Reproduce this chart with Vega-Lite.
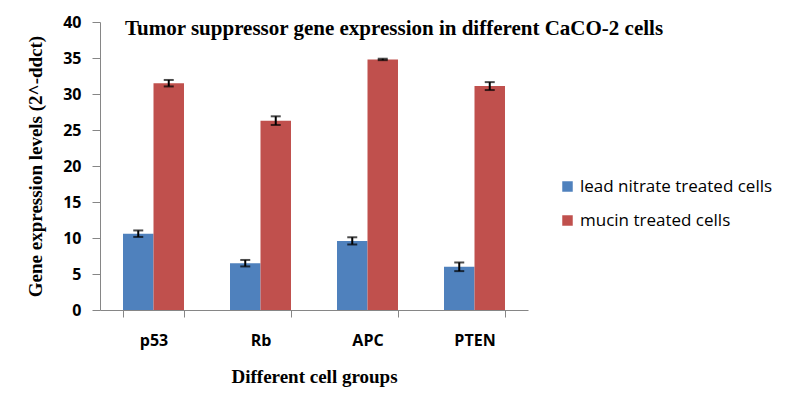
{
  "$schema": "https://vega.github.io/schema/vega-lite/v6.json",
  "autosize": "none",
  "padding": {"left": 100, "top": 22, "right": 261, "bottom": 101},
  "width": 428,
  "height": 288,
  "background": "white",
  "title": {
    "text": "Tumor suppressor gene expression in different CaCO-2 cells",
    "font": "Liberation Serif",
    "fontSize": 21,
    "fontWeight": "bold",
    "color": "black",
    "anchor": "start",
    "frame": "group",
    "dx": 25,
    "dy": 29,
    "offset": -13,
    "baseline": "alphabetic"
  },
  "data": {
    "values": [
      {"gene": "p53", "group": "lead nitrate treated cells", "value": 10.6, "err": 0.45},
      {"gene": "p53", "group": "mucin treated cells", "value": 31.5, "err": 0.45},
      {"gene": "Rb", "group": "lead nitrate treated cells", "value": 6.5, "err": 0.45},
      {"gene": "Rb", "group": "mucin treated cells", "value": 26.3, "err": 0.6},
      {"gene": "APC", "group": "lead nitrate treated cells", "value": 9.6, "err": 0.5},
      {"gene": "APC", "group": "mucin treated cells", "value": 34.8, "err": 0.1},
      {"gene": "PTEN", "group": "lead nitrate treated cells", "value": 6.0, "err": 0.6},
      {"gene": "PTEN", "group": "mucin treated cells", "value": 31.1, "err": 0.55}
    ]
  },
  "encoding": {
    "x": {
      "field": "gene",
      "type": "nominal",
      "sort": ["p53", "Rb", "APC", "PTEN"],
      "scale": {"paddingInner": 0.43, "paddingOuter": 0.215},
      "axis": {
        "title": "Different cell groups",
        "titleFont": "Liberation Serif",
        "titleFontSize": 19,
        "titleFontWeight": "bold",
        "titleColor": "black",
        "titlePadding": 19,
        "labelFont": "Open Sans",
        "labelFontSize": 16,
        "labelFontWeight": "bold",
        "labelColor": "black",
        "labelAngle": 0,
        "labelPadding": 15,
        "tickBand": "extent",
        "tickSize": 7,
        "tickColor": "#868686",
        "domainColor": "#868686",
        "grid": false
      }
    },
    "xOffset": {"field": "group", "type": "nominal"},
    "y": {
      "field": "value",
      "type": "quantitative",
      "scale": {"domain": [0, 40]},
      "axis": {
        "title": "Gene expression levels (2^-ddct)",
        "titleFont": "Liberation Serif",
        "titleFontSize": 19,
        "titleFontWeight": "bold",
        "titleColor": "black",
        "titlePadding": 17,
        "labelFont": "Open Sans",
        "labelFontSize": 16,
        "labelFontWeight": "bold",
        "labelColor": "black",
        "labelPadding": 11,
        "values": [0, 5, 10, 15, 20, 25, 30, 35, 40],
        "tickSize": 8,
        "tickColor": "#868686",
        "domainColor": "#868686",
        "grid": false
      }
    }
  },
  "layer": [
    {
      "mark": {"type": "bar"},
      "encoding": {
        "color": {
          "field": "group",
          "type": "nominal",
          "scale": {"range": ["#4F81BD", "#C0504D"]},
          "legend": {
            "title": null,
            "orient": "none",
            "legendX": 459,
            "legendY": 156,
            "padding": 0,
            "symbolType": "square",
            "symbolSize": 110,
            "symbolStrokeWidth": 0,
            "labelFont": "Open Sans",
            "labelFontSize": 17,
            "labelColor": "black",
            "labelOffset": 4,
            "labelLimit": 400,
            "rowPadding": 16
          }
        }
      }
    },
    {
      "mark": {"type": "errorbar", "color": "black", "thickness": 2, "ticks": {"size": 10, "thickness": 2, "color": "black"}},
      "encoding": {
        "yError": {"field": "err"}
      }
    }
  ],
  "config": {"view": {"stroke": null}}
}
